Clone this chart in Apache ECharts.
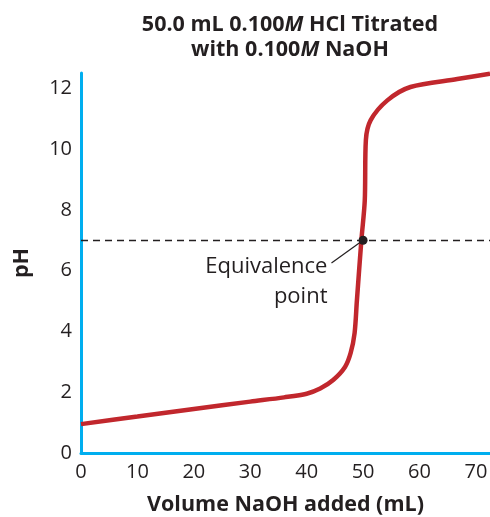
<!DOCTYPE html>
<html>
<head>
<meta charset="utf-8">
<script src="https://cdn.jsdelivr.net/npm/echarts@6/dist/echarts.min.js"></script>
<style>
  html, body { margin: 0; padding: 0; background: #fff; }
  #chart { width: 490px; height: 517px; }
</style>
</head>
<body>
<div id="chart"></div>
<script>
// titration curve
const volume = [0, 10, 20, 30, 36, 40, 42.4, 44.7, 46.8, 47.8, 48.5, 48.9, 49.7, 50.3, 50.5, 51.35, 54.3, 58.4, 66.7, 72.5];
const ph = [0.95, 1.2, 1.45, 1.69, 1.83, 1.95, 2.12, 2.4, 2.83, 3.29, 3.95, 5.0, 7.0, 8.3, 10.3, 10.95, 11.6, 12.04, 12.3, 12.48];
const equivPoint = [50, 7];
const labelAnchor = [44.4, 6.25];

const textColor = '#231f20';
const axisColor = '#00aeef';
const font = 'Open Sans';

const chart = echarts.init(document.getElementById('chart'));
const curve = volume.map((v, i) => [v, ph[i]]);

const option = {
  animation: false,
  title: {
    text: '50.0 mL 0.100{i|M} HCl Titrated\nwith 0.100{i|M} NaOH',
    left: 285,
    textAlign: 'center',
    top: 7,
    textStyle: {
      fontFamily: font,
      fontSize: 21.5,
      fontWeight: 'bold',
      color: textColor,
      lineHeight: 25,
      rich: {
        i: { fontFamily: font, fontSize: 21.5, fontWeight: 'bold', fontStyle: 'italic', color: textColor, lineHeight: 25 }
      }
    }
  },
  grid: { left: 81, right: 0, top: 73, bottom: 64, outerBoundsMode: 'none', containLabel: false },
  xAxis: {
    type: 'value',
    min: 0,
    max: 72.5,
    interval: 10,
    name: 'Volume NaOH added (mL)',
    nameLocation: 'middle',
    nameGap: 41,
    nameTextStyle: { fontFamily: font, fontSize: 21.5, fontWeight: 'bold', color: textColor },
    axisLine: { lineStyle: { color: axisColor, width: 3 } },
    axisTick: { show: false },
    splitLine: { show: false },
    axisLabel: { fontFamily: font, fontSize: 20, color: textColor, margin: 9, showMaxLabel: false }
  },
  yAxis: {
    type: 'value',
    min: 0,
    max: 12.5,
    interval: 2,
    name: 'pH',
    nameLocation: 'middle',
    nameGap: 48,
    nameTextStyle: { fontFamily: font, fontSize: 21.5, fontWeight: 'bold', color: textColor },
    axisLine: { show: true, lineStyle: { color: axisColor, width: 3 } },
    axisTick: { show: false },
    splitLine: { show: false },
    axisLabel: { fontFamily: font, fontSize: 20, color: textColor, margin: 9, showMaxLabel: false }
  },
  series: [
    {
      type: 'line',
      data: curve,
      smooth: 0.3,
      showSymbol: false,
      lineStyle: { color: '#c1272d', width: 4.5 },
      markLine: {
        silent: true,
        symbol: 'none',
        label: { show: false },
        lineStyle: { color: textColor, type: [7, 5], width: 1.4, opacity: 1 },
        data: [{ yAxis: 7 }]
      },
      z: 2
    },
    {
      type: 'line',
      data: [equivPoint, labelAnchor],
      showSymbol: false,
      lineStyle: { color: textColor, width: 1.2 },
      z: 3
    },
    {
      type: 'scatter',
      data: [equivPoint],
      symbolSize: 9,
      itemStyle: { color: textColor, opacity: 1 },
      z: 4
    },
    {
      type: 'scatter',
      data: [labelAnchor],
      symbolSize: 0,
      itemStyle: { opacity: 1 },
      label: {
        show: true,
        formatter: 'Equivalence\npoint',
        position: [-4, -11],
        align: 'right',
        verticalAlign: 'top',
        fontFamily: font,
        fontSize: 22,
        lineHeight: 30,
        color: textColor,
        opacity: 1
      },
      z: 4
    }
  ]
};

chart.setOption(option);
</script>
</body>
</html>
